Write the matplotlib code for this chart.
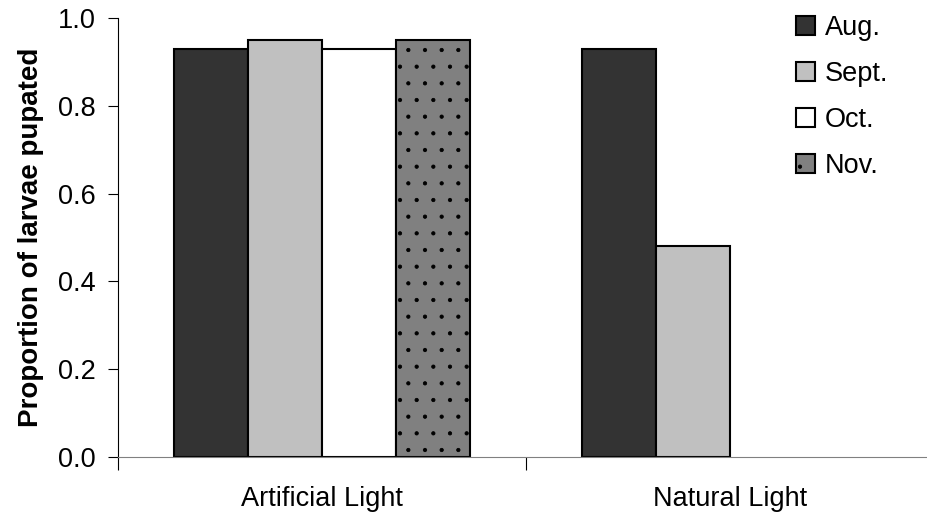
import matplotlib
matplotlib.use("Agg")
import matplotlib.pyplot as plt
import numpy as np

plt.rcParams['font.family'] = ['Liberation Sans', 'DejaVu Sans']
plt.rcParams['hatch.color'] = '#404040'
plt.rcParams['hatch.linewidth'] = 0.6

# data
groups = ['Artificial Light', 'Natural Light']
months = ['Aug.', 'Sept.', 'Oct.', 'Nov.']
aug = [0.93, 0.93]
sept = [0.95, 0.48]
octo = [0.93, np.nan]
nov = [0.95, np.nan]
series = [aug, sept, octo, nov]
colors = ['#333333', '#c0c0c0', '#ffffff', '#808080']
hatches = [None, None, None, '.']

fig = plt.figure(figsize=(9.27, 5.24), dpi=100)
ax = fig.add_axes([118/927, (524-457)/524, 816/927, 439/524])

x = np.arange(len(groups))
w = 0.181
for i, (vals, c, h) in enumerate(zip(series, colors, hatches)):
    ax.bar(x + (i - 1.5) * w, vals, w, color=c, edgecolor='black',
           linewidth=1.5, hatch=h, label=months[i])

ax.set_xlim(-0.5, 1.5)
ax.set_ylim(0, 1.0)
ax.set_yticks(np.arange(0, 1.01, 0.2))
ax.set_yticklabels(['%.1f' % v for v in np.arange(0, 1.01, 0.2)], fontsize=19.5)
ax.set_xticks([-0.5, 0.5, 1.5])
ax.set_xticklabels([])
ax.set_xticks(x, minor=True)
ax.set_xticklabels(groups, minor=True, fontsize=19.5)
ax.tick_params(axis='x', which='minor', length=0, pad=21)
ax.tick_params(axis='x', which='major', length=9, direction='out')
ax.tick_params(axis='y', length=7, direction='out', pad=9)
ax.spines['top'].set_visible(False)
ax.spines['right'].set_visible(False)
ax.spines['bottom'].set_color('#808080')
ax.set_ylabel('Proportion of larvae pupated', fontsize=20, fontweight='bold',
              labelpad=10)

ax.legend(loc='upper left', bbox_to_anchor=(772/927, 1.018), bbox_transform=fig.transFigure,
          frameon=False, fontsize=19.5, handlelength=0.68, handleheight=0.68,
          handletextpad=0.36, labelspacing=0.74)

fig.savefig('out.png', dpi=100)
